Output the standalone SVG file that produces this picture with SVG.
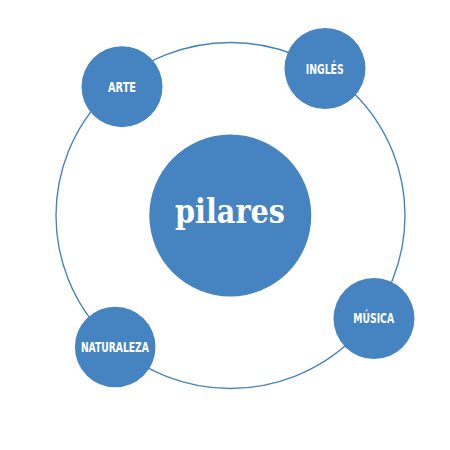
<svg xmlns="http://www.w3.org/2000/svg" width="450" height="450" viewBox="0 0 450 450">
<style>
.node{fill:#4684C1;}
.lbl{fill:#ffffff;font-family:"DejaVu Sans Condensed","DejaVu Sans",sans-serif;font-weight:bold;font-size:14.6px;text-anchor:middle;}
.ring{fill:none;stroke:#4684C1;stroke-width:1.4;}
</style>
<rect width="450" height="450" fill="#ffffff"/>
<g id="connectors">
<ellipse class="ring" cx="230.5" cy="215.5" rx="174.5" ry="173"/>
</g>
<g id="center">
<circle class="node" cx="230.3" cy="215.5" r="81"/>
<text x="230" y="223" fill="#ffffff" font-family="'DejaVu Serif',serif" font-weight="bold" font-size="33" text-anchor="middle" textLength="110" lengthAdjust="spacingAndGlyphs">pilares</text>
</g>
<g id="arte">
<circle class="node" cx="122" cy="86.7" r="40.5"/>
<text class="lbl" x="122" y="92.3" textLength="28" lengthAdjust="spacingAndGlyphs">ARTE</text>
</g>
<g id="ingles">
<circle class="node" cx="325" cy="68.5" r="40.5"/>
<text class="lbl" x="324.7" y="74" textLength="38" lengthAdjust="spacingAndGlyphs">INGLÉS</text>
</g>
<g id="musica">
<circle class="node" cx="374" cy="318.5" r="40.5"/>
<text class="lbl" x="373.7" y="323.3" textLength="40.7" lengthAdjust="spacingAndGlyphs">MÚSICA</text>
</g>
<g id="naturaleza">
<circle class="node" cx="115.2" cy="347" r="40.3"/>
<text class="lbl" x="114.9" y="352.3" textLength="68" lengthAdjust="spacingAndGlyphs">NATURALEZA</text>
</g>
</svg>
